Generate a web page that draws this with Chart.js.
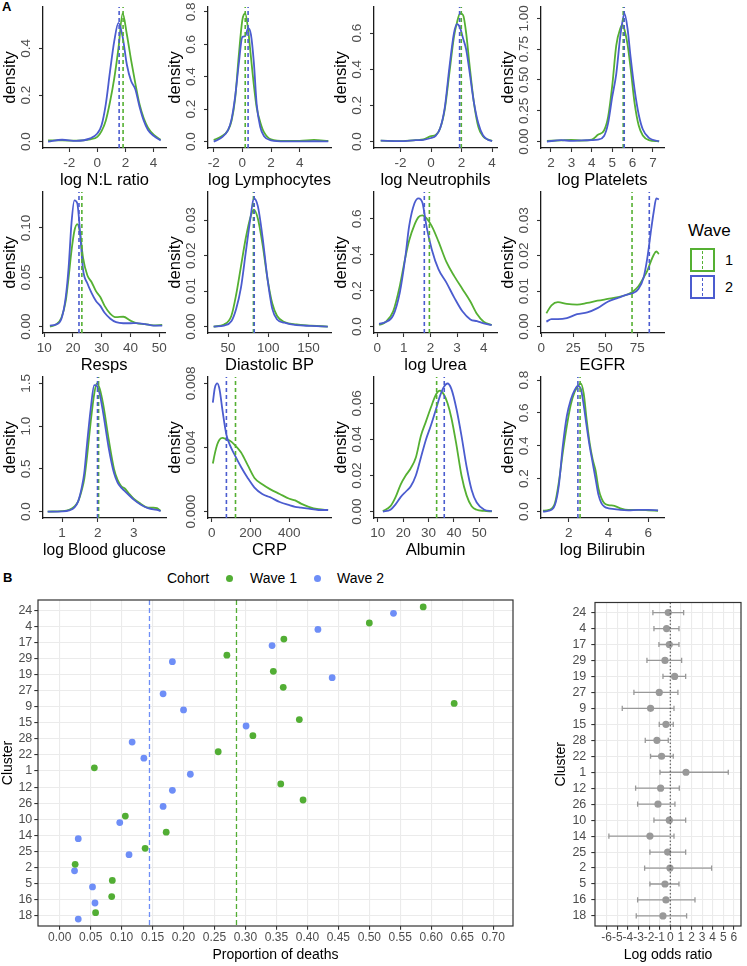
<!DOCTYPE html>
<html>
<head>
<meta charset="utf-8">
<script src="https://cdn.jsdelivr.net/npm/chart.js@4.4.1/dist/chart.umd.min.js"></script>
<style>
  html, body { margin: 0; padding: 0; background: #fff; }
  body { width: 747px; height: 966px; position: relative; overflow: hidden;
         font-family: 'Liberation Sans', Arial, Helvetica, sans-serif; }
  canvas { position: absolute; }
  .tag { position: absolute; font-weight: bold; font-size: 13px; line-height: 14px; }
  .txt { position: absolute; white-space: nowrap; color: #000; }
  .key { position: absolute; width: 25px; height: 24px; box-sizing: border-box; border: 2px solid; }
  .key div { position: absolute; left: 10px; top: 1px; bottom: 1px; border-left: 1.6px dashed; }
  .dot { position: absolute; width: 7px; height: 7px; border-radius: 50%; }
</style>
</head>
<body>
<div class="tag" style="left:2px;top:0px">A</div>
<div class="tag" style="left:3px;top:571px">B</div>

<div class="txt" style="left:688px;top:221px;font-size:17px;line-height:20px">Wave</div>
<div class="key" style="left:690px;top:248px;border-color:#55b032"><div style="border-color:#55b032"></div></div>
<div class="key" style="left:690px;top:275px;border-color:#4b5ccf"><div style="border-color:#4b5ccf"></div></div>
<div class="txt" style="left:725px;top:252px;font-size:14.5px;line-height:17px">1</div>
<div class="txt" style="left:725px;top:279px;font-size:14.5px;line-height:17px">2</div>

<div class="txt" style="left:167px;top:570px;font-size:14px;line-height:17px">Cohort</div>
<div class="dot" style="left:226px;top:575px;background:#52ae34"></div>
<div class="txt" style="left:250px;top:570px;font-size:14px;line-height:17px">Wave 1</div>
<div class="dot" style="left:314px;top:575px;background:#6e8ef7"></div>
<div class="txt" style="left:337px;top:570px;font-size:14px;line-height:17px">Wave 2</div>

<script>
// ---- panel A: density curves (x grid, wave 1, wave 2) ----
const nlX     = [-3.5, -2.5, -1.5, -0.5, 0, 0.3, 0.6, 0.9, 1.2, 1.5, 1.8, 2.1, 2.4, 2.7, 3.0, 3.3, 3.6, 4.0, 4.5];
const nlWave1 = [0.005, 0.005, 0.004, 0.01, 0.02, 0.045, 0.09, 0.17, 0.27, 0.40, 0.55, 0.46, 0.35, 0.25, 0.16, 0.10, 0.06, 0.03, 0.008];
const nlWave2 = [0.0, 0.008, 0.003, 0.014, 0.035, 0.07, 0.16, 0.30, 0.43, 0.51, 0.45, 0.33, 0.26, 0.225, 0.15, 0.09, 0.05, 0.025, 0.005];

const lymX     = [-2, -1.5, -1, -0.75, -0.5, -0.25, 0, 0.2, 0.4, 0.6, 0.8, 1.0, 1.25, 1.5, 2, 3, 4, 5, 6];
const lymWave1 = [0.01, 0.03, 0.07, 0.13, 0.27, 0.53, 0.75, 0.79, 0.69, 0.52, 0.35, 0.21, 0.12, 0.06, 0.014, 0.004, 0.004, 0.01, 0.004];
const lymWave2 = [0.0, 0.022, 0.07, 0.14, 0.28, 0.48, 0.645, 0.65, 0.70, 0.66, 0.49, 0.23, 0.09, 0.035, 0.008, 0.001, 0.001, 0.002, 0.001];

const neuX     = [-3.3, -2, -1, -0.5, 0, 0.3, 0.6, 0.9, 1.2, 1.5, 1.7, 1.9, 2.1, 2.3, 2.5, 2.8, 3.1, 3.4, 3.7, 4.0];
const neuWave1 = [0.005, 0.003, 0.008, 0.012, 0.03, 0.036, 0.075, 0.18, 0.38, 0.58, 0.66, 0.71, 0.70, 0.60, 0.44, 0.22, 0.08, 0.03, 0.012, 0.004];
const neuWave2 = [0.005, 0.003, 0.008, 0.01, 0.02, 0.032, 0.075, 0.19, 0.41, 0.60, 0.65, 0.63, 0.57, 0.51, 0.40, 0.22, 0.10, 0.035, 0.012, 0.002];

const pltX     = [1.8, 2.5, 3, 3.5, 4, 4.3, 4.6, 4.8, 5.0, 5.2, 5.4, 5.5, 5.6, 5.75, 5.9, 6.1, 6.3, 6.5, 6.8, 7.3];
const pltWave1 = [0.005, 0.01, 0.014, 0.008, 0.015, 0.055, 0.09, 0.2, 0.45, 0.78, 0.92, 0.946, 0.91, 0.79, 0.6, 0.31, 0.13, 0.05, 0.012, 0.002];
const pltWave2 = [0.0, 0.012, 0.006, 0.01, 0.012, 0.016, 0.045, 0.15, 0.36, 0.55, 0.86, 0.97, 1.04, 0.92, 0.69, 0.42, 0.22, 0.10, 0.03, 0.002];

const respX     = [12, 14, 16, 17.5, 18.5, 19.5, 20.5, 21.5, 22.5, 23.5, 25, 26.5, 28, 29.5, 31, 33, 35, 37.5, 40, 42, 45, 48, 51];
const respWave1 = [0.0, 0.002, 0.009, 0.026, 0.05, 0.077, 0.097, 0.104, 0.094, 0.07, 0.052, 0.045, 0.036, 0.03, 0.021, 0.013, 0.0095, 0.010, 0.006, 0.0035, 0.0025, 0.0012, 0.0017];
const respWave2 = [0.001, 0.002, 0.008, 0.03, 0.06, 0.105, 0.128, 0.125, 0.095, 0.058, 0.044, 0.034, 0.026, 0.021, 0.014, 0.008, 0.0045, 0.0034, 0.0034, 0.0036, 0.0026, 0.001, 0.001];

const dbpX     = [32, 45, 54, 60, 66, 72, 78, 82, 87, 93, 99, 105, 111, 120, 135, 153, 174];
const dbpWave1 = [0, 0.0006, 0.003, 0.009, 0.017, 0.025, 0.031, 0.033, 0.0305, 0.023, 0.0135, 0.0065, 0.003, 0.0013, 0.0006, 0.0003, 0];
const dbpWave2 = [0, 0.0003, 0.0015, 0.005, 0.011, 0.021, 0.031, 0.0362, 0.034, 0.025, 0.0135, 0.005, 0.002, 0.0011, 0.0004, 0.0002, 0];

const ureaX     = [0.07, 0.3, 0.6, 0.85, 1.05, 1.2, 1.4, 1.55, 1.7, 1.85, 2.05, 2.3, 2.6, 2.9, 3.2, 3.5, 3.75, 4.0, 4.3];
const ureaWave1 = [0.009, 0.024, 0.085, 0.227, 0.38, 0.48, 0.567, 0.61, 0.62, 0.604, 0.56, 0.475, 0.36, 0.28, 0.21, 0.14, 0.07, 0.027, 0.009];
const ureaWave2 = [0.015, 0.024, 0.062, 0.19, 0.38, 0.56, 0.687, 0.715, 0.69, 0.56, 0.43, 0.32, 0.245, 0.16, 0.085, 0.04, 0.03, 0.018, 0.008];

const egfrX     = [4, 8, 13, 20, 28, 36, 44, 52, 60, 67, 72, 76, 80, 83, 85.5, 88, 90, 92];
const egfrWave1 = [0.0038, 0.006, 0.0069, 0.0064, 0.0062, 0.0067, 0.0073, 0.0078, 0.0083, 0.009, 0.010, 0.0114, 0.0138, 0.0158, 0.0182, 0.0203, 0.0212, 0.0205];
const egfrWave2 = [0.0014, 0.0021, 0.0021, 0.0024, 0.0035, 0.004, 0.0052, 0.007, 0.0081, 0.009, 0.0095, 0.0106, 0.0138, 0.0195, 0.0262, 0.0325, 0.0362, 0.0359];

const gluX     = [0.6, 1.0, 1.2, 1.35, 1.45, 1.55, 1.62, 1.7, 1.8, 1.9, 1.97, 2.05, 2.15, 2.3, 2.45, 2.55, 2.65, 2.75, 2.85, 3.0, 3.2, 3.4, 3.55, 3.65, 3.75];
const gluWave1 = [0, 0.005, 0.02, 0.06, 0.12, 0.25, 0.38, 0.65, 1.05, 1.38, 1.5, 1.44, 1.25, 0.85, 0.5, 0.37, 0.3, 0.27, 0.22, 0.15, 0.09, 0.045, 0.045, 0.04, 0.008];
const gluWave2 = [0, 0.003, 0.015, 0.05, 0.12, 0.28, 0.45, 0.8, 1.2, 1.48, 1.47, 1.38, 1.15, 0.75, 0.45, 0.34, 0.28, 0.24, 0.2, 0.14, 0.08, 0.04, 0.025, 0.02, 0.005];

const crpX     = [5, 15, 28, 40, 55, 75, 95, 115, 150, 185, 220, 260, 300, 350, 400, 430, 460, 500, 550, 600];
const crpWave1 = [0.0030, 0.0036, 0.0042, 0.0045, 0.0046, 0.0045, 0.0044, 0.0042, 0.0037, 0.0029, 0.0021, 0.0017, 0.0014, 0.0011, 0.0008, 0.0007, 0.0005, 0.0003, 0.00015, 0.0001];
const crpWave2 = [0.0068, 0.0077, 0.0080, 0.0076, 0.0063, 0.0048, 0.0041, 0.0036, 0.0028, 0.0021, 0.0015, 0.0011, 0.0009, 0.0006, 0.0004, 0.0003, 0.00025, 0.00018, 0.0001, 0.0001];

const albX     = [12, 15, 17, 19, 21, 23, 25, 27, 29, 31, 33, 34.5, 36, 37.5, 39, 41, 43, 45, 47, 49, 52, 55];
const albWave1 = [0.0003, 0.003, 0.008, 0.015, 0.02, 0.024, 0.03, 0.042, 0.05, 0.058, 0.065, 0.067, 0.065, 0.06, 0.052, 0.037, 0.02, 0.009, 0.003, 0.001, 0.0004, 0.0001];
const albWave2 = [0, 0.001, 0.004, 0.008, 0.011, 0.014, 0.02, 0.03, 0.04, 0.048, 0.057, 0.064, 0.069, 0.071, 0.068, 0.057, 0.042, 0.025, 0.012, 0.005, 0.001, 0.0002];

const biliX     = [0.7, 1.0, 1.3, 1.5, 1.7, 1.9, 2.1, 2.3, 2.45, 2.6, 2.75, 2.9, 3.05, 3.2, 3.35, 3.5, 3.65, 3.8, 4.0, 4.3, 4.6, 5.0, 5.5, 6.0, 6.5];
const biliWave1 = [0.005, 0.01, 0.05, 0.18, 0.36, 0.52, 0.65, 0.73, 0.76, 0.78, 0.72, 0.56, 0.42, 0.32, 0.25, 0.14, 0.08, 0.05, 0.04, 0.035, 0.02, 0.01, 0.01, 0.008, 0.005];
const biliWave2 = [0, 0.005, 0.04, 0.16, 0.4, 0.58, 0.68, 0.74, 0.765, 0.75, 0.65, 0.52, 0.4, 0.3, 0.2, 0.1, 0.05, 0.03, 0.02, 0.015, 0.01, 0.008, 0.01, 0.01, 0.008];

const panelTitles = ['log N:L ratio', 'log Lymphocytes', 'log Neutrophils', 'log Platelets',
                     'Resps', 'Diastolic BP', 'log Urea', 'EGFR',
                     'log Blood glucose', 'CRP', 'Albumin', 'log Bilirubin'];
const meansWave1 = [1.83, 0.2, 1.98, 5.54, 23.1, 81.5, 1.96, 71, 2.02, 122, 33.2, 2.57];
const meansWave2 = [1.55, 0.4, 1.87, 5.59, 22.1, 82.5, 1.77, 84.5, 1.99, 75, 36.2, 2.46];

// ---- panel B: proportion of deaths and log odds ratio by cluster ----
const clusters    = ['24', '4', '17', '29', '19', '27', '9', '15', '28', '22', '1', '12', '26', '10', '14', '25', '2', '5', '16', '18'];
const deathsWave1 = [0.587, 0.500, 0.362, 0.270, 0.345, 0.361, 0.637, 0.387, 0.312, 0.256, 0.056, 0.357, 0.393, 0.106, 0.172, 0.138, 0.025, 0.085, 0.084, 0.058];
const deathsWave2 = [0.539, 0.417, 0.343, 0.182, 0.440, 0.167, 0.200, 0.301, 0.117, 0.136, 0.211, 0.182, 0.167, 0.097, 0.030, 0.112, 0.024, 0.053, 0.057, 0.030];
const overallWave1 = 0.2855;
const overallWave2 = 0.145;
const logOdds     = [-0.19, -0.35, -0.09, -0.5, 0.41, -1.04, -1.86, -0.41, -1.26, -0.82, 1.48, -0.91, -1.16, -0.09, -1.92, -0.25, -0.03, -0.5, -0.41, -0.69];
const logOddsLow  = [-1.64, -1.54, -1.07, -2.2, -0.69, -3.43, -4.53, -1.04, -2.36, -1.86, -0.97, -3.27, -3.08, -1.54, -5.79, -1.92, -2.42, -1.92, -3.08, -3.21];
const logOddsHigh = [1.26, 0.82, 0.82, 1.07, 1.45, 0.72, 0.35, 0.28, -0.19, 0.28, 5.47, 0.85, 0.44, 1.45, 0.35, 1.45, 3.9, 0.82, 2.33, 1.54];
const propTicks = [0, 0.05, 0.1, 0.15, 0.2, 0.25, 0.3, 0.35, 0.4, 0.45, 0.5, 0.55, 0.6, 0.65, 0.7];
const lorTicks  = [-6, -5, -4, -3, -2, -1, 0, 1, 2, 3, 4, 5, 6];

const FONT = "'Liberation Sans', Arial, Helvetica, sans-serif";
const GREEN = '#55b032', BLUE = '#4b5ccf';
const GREEN_B = '#52ae34', BLUE_B = '#6e8ef7';
Chart.defaults.font.family = FONT;
Chart.defaults.color = '#4d4d4d';

function addCanvas(left, top, w, h) {
  const cv = document.createElement('canvas');
  cv.width = w; cv.height = h;
  cv.style.left = left + 'px'; cv.style.top = top + 'px';
  document.body.appendChild(cv);
  return cv;
}

// y tick labels turned 90 degrees, as in the original
function rotatedYLabels(dec) {
  return {
    id: 'rotYLabels',
    afterDraw(chart) {
      const s = chart.scales.y, ctx = chart.ctx;
      ctx.save();
      ctx.font = '13.5px ' + FONT;
      ctx.fillStyle = '#4d4d4d';
      ctx.textAlign = 'center';
      ctx.textBaseline = 'middle';
      for (const t of s.ticks) {
        ctx.save();
        ctx.translate(s.right - 16.5, s.getPixelForValue(t.value));
        ctx.rotate(-Math.PI / 2);
        ctx.fillText(t.value.toFixed(dec), 0, 0);
        ctx.restore();
      }
      ctx.restore();
    }
  };
}

const frame = {
  id: 'frame',
  afterDraw(chart) {
    const {ctx, chartArea: a} = chart;
    ctx.save();
    ctx.strokeStyle = '#333';
    ctx.lineWidth = 1.2;
    ctx.strokeRect(a.left, a.top, a.right - a.left, a.bottom - a.top);
    ctx.restore();
  }
};

const PANEL_X = [43, 208, 374, 541];
const PANEL_Y = [7, 192, 377];
const TOP_PAD = 16;

const axisTicks = { display: true, drawOnChartArea: false, drawTicks: true, tickLength: 4, tickColor: '#333', tickWidth: 1.1 };

function densityPanel(p, m1, m2, col, row) {
  const cv = addCanvas(PANEL_X[col] - 43, PANEL_Y[row] - TOP_PAD, 170, 186 + TOP_PAD);
  const yMin = -p.yTop * 0.05 / 1.05;
  const yTicks = [];
  for (let k = 0; k * p.yStep <= p.yTop + 1e-9; k++) yTicks.push(k * p.yStep);

  const curve = (ys, color) => ({
    data: p.x.map((x, i) => ({x, y: ys[i]})),
    borderColor: color, borderWidth: 1.8, pointRadius: 0,
    cubicInterpolationMode: 'monotone', fill: false
  });
  const vline = (m, color) => ({
    data: [{x: m, y: yMin}, {x: m, y: p.yTop}],
    borderColor: color, borderWidth: 1.6, borderDash: [4, 3], pointRadius: 0, fill: false
  });

  new Chart(cv, {
    type: 'line',
    data: { datasets: [vline(m2, BLUE), vline(m1, GREEN), curve(p.w2, BLUE), curve(p.w1, GREEN)] },
    options: {
      responsive: false, animation: false, devicePixelRatio: 1,
      layout: { padding: { top: TOP_PAD, right: 4, left: 0, bottom: 0 } },
      plugins: { legend: { display: false }, tooltip: { enabled: false } },
      scales: {
        x: {
          type: 'linear', min: p.xMin, max: p.xMax,
          afterBuildTicks: s => { s.ticks = p.xTicks.map(v => ({ value: v })); },
          afterFit: s => { s.height = 45; },
          ticks: { font: { size: 13.5 }, padding: 3, autoSkip: false, maxRotation: 0, callback: v => String(v) },
          grid: axisTicks,
          border: { display: true, color: '#1a1a1a', width: 1.3 },
          title: { display: true, text: p.title, color: '#000', font: { size: 16.5 }, padding: { top: 0, bottom: 3 } }
        },
        y: {
          type: 'linear', min: yMin, max: p.yTop,
          afterBuildTicks: s => { s.ticks = yTicks.map(v => ({ value: v })); },
          afterFit: s => { s.width = 43; },
          ticks: { display: false },
          grid: axisTicks,
          border: { display: true, color: '#1a1a1a', width: 1.3 },
          title: { display: true, text: 'density', color: '#000', font: { size: 16.5 }, padding: { top: 1, bottom: 0 } }
        }
      }
    },
    plugins: [rotatedYLabels(p.yDec)]
  });
}

const panels = [
  { x: nlX,   w1: nlWave1,   w2: nlWave2,   xMin: -3.86, xMax: 4.88, xTicks: [-2, 0, 2, 4],        yTop: 0.578,  yStep: 0.2,   yDec: 1 },
  { x: lymX,  w1: lymWave1,  w2: lymWave2,  xMin: -2.4,  xMax: 6.19, xTicks: [-2, 0, 2, 4],        yTop: 0.83,   yStep: 0.2,   yDec: 1 },
  { x: neuX,  w1: neuWave1,  w2: neuWave2,  xMin: -3.74, xMax: 4.32, xTicks: [-2, 0, 2, 4],        yTop: 0.745,  yStep: 0.2,   yDec: 1 },
  { x: pltX,  w1: pltWave1,  w2: pltWave2,  xMin: 1.51,  xMax: 7.54, xTicks: [2, 3, 4, 5, 6, 7],   yTop: 1.092,  yStep: 0.25,  yDec: 2 },
  { x: respX, w1: respWave1, w2: respWave2, xMin: 9.6,   xMax: 52,   xTicks: [10, 20, 30, 40, 50], yTop: 0.1365, yStep: 0.05,  yDec: 2 },
  { x: dbpX,  w1: dbpWave1,  w2: dbpWave2,  xMin: 25,    xMax: 178,  xTicks: [50, 100, 150],       yTop: 0.038,  yStep: 0.01,  yDec: 2 },
  { x: ureaX, w1: ureaWave1, w2: ureaWave2, xMin: -0.12, xMax: 4.5,  xTicks: [0, 1, 2, 3, 4],      yTop: 0.75,   yStep: 0.2,   yDec: 1 },
  { x: egfrX, w1: egfrWave1, w2: egfrWave2, xMin: -0.2,  xMax: 96,   xTicks: [0, 25, 50, 75],      yTop: 0.038,  yStep: 0.01,  yDec: 2 },
  { x: gluX,  w1: gluWave1,  w2: gluWave2,  xMin: 0.47,  xMax: 3.9,  xTicks: [1, 2, 3],            yTop: 1.575,  yStep: 0.5,   yDec: 1 },
  { x: crpX,  w1: crpWave1,  w2: crpWave2,  xMin: -20,   xMax: 615,  xTicks: [0, 200, 400],        yTop: 0.0084, yStep: 0.004, yDec: 3 },
  { x: albX,  w1: albWave1,  w2: albWave2,  xMin: 8.5,   xMax: 57,   xTicks: [10, 20, 30, 40, 50], yTop: 0.0746, yStep: 0.02,  yDec: 2 },
  { x: biliX, w1: biliWave1, w2: biliWave2, xMin: 0.6,   xMax: 6.8,  xTicks: [2, 4, 6],            yTop: 0.819,  yStep: 0.2,   yDec: 1 }
];
panels.forEach((p, i) => {
  p.title = panelTitles[i];
  densityPanel(p, meansWave1[i], meansWave2[i], i % 4, Math.floor(i / 4));
});

// ---- panel B left: proportion of deaths ----
const Y_MIN = -0.63, Y_MAX = clusters.length - 1 + 0.63;
const catAxis = (width, pad) => ({
  type: 'linear', reverse: true, min: Y_MIN, max: Y_MAX,
  afterBuildTicks: s => { s.ticks = clusters.map((c, i) => ({ value: i })); },
  afterFit: s => { s.width = width; },
  ticks: { autoSkip: false, font: { size: 12.5 }, padding: pad, callback: v => clusters[v] },
  grid: { color: '#ebebeb', lineWidth: 1.1, tickLength: 3.7, tickColor: '#333', tickWidth: 1.1 },
  border: { display: false },
  title: { display: true, text: 'Cluster', color: '#000', font: { size: 14 }, padding: { top: 0, bottom: 0 } }
});

new Chart(addCanvas(0, 590, 520, 376), {
  type: 'scatter',
  data: {
    datasets: [
      { data: [{x: overallWave2, y: Y_MIN}, {x: overallWave2, y: Y_MAX}], showLine: true, borderColor: BLUE_B, borderWidth: 1.3, borderDash: [5, 3], pointRadius: 0 },
      { data: [{x: overallWave1, y: Y_MIN}, {x: overallWave1, y: Y_MAX}], showLine: true, borderColor: GREEN_B, borderWidth: 1.3, borderDash: [5, 3], pointRadius: 0 },
      { data: clusters.map((c, i) => ({x: deathsWave1[i], y: i - 0.2})), backgroundColor: GREEN_B, borderWidth: 0, pointRadius: 3.4 },
      { data: clusters.map((c, i) => ({x: deathsWave2[i], y: i + 0.2})), backgroundColor: BLUE_B, borderWidth: 0, pointRadius: 3.4 }
    ]
  },
  options: {
    responsive: false, animation: false, devicePixelRatio: 1,
    layout: { padding: { top: 10, right: 7, left: 0, bottom: 0 } },
    plugins: { legend: { display: false }, tooltip: { enabled: false } },
    scales: {
      x: {
        type: 'linear', min: -0.035, max: 0.732,
        afterBuildTicks: s => { s.ticks = propTicks.map(v => ({ value: v })); },
        afterFit: s => { s.height = 40; },
        ticks: { autoSkip: false, maxRotation: 0, font: { size: 12 }, padding: 1, callback: v => v.toFixed(2) },
        grid: { color: '#ebebeb', lineWidth: 1.1, tickLength: 3.7, tickColor: '#333', tickWidth: 1.1 },
        border: { display: false },
        title: { display: true, text: 'Proportion of deaths', color: '#000', font: { size: 14 }, padding: { top: 0, bottom: 2 } }
      },
      y: catAxis(38, 2)
    }
  },
  plugins: [frame]
});

// ---- panel B right: log odds ratio with intervals ----
const errorBars = [];
clusters.forEach((c, i) => {
  errorBars.push({x: logOddsLow[i], y: i}, {x: logOddsHigh[i], y: i}, {x: null, y: null});
});

new Chart(addCanvas(553, 590, 194, 376), {
  type: 'scatter',
  data: {
    datasets: [
      { data: [{x: 0, y: Y_MIN}, {x: 0, y: Y_MAX}], showLine: true, borderColor: '#555', borderWidth: 1.1, borderDash: [1.5, 2], pointRadius: 0 },
      { data: clusters.map((c, i) => ({x: logOdds[i], y: i})), backgroundColor: '#999999', borderWidth: 0, pointRadius: 3.6 },
      { data: errorBars, showLine: true, spanGaps: false, borderColor: '#999999', borderWidth: 1.3,
        pointStyle: 'line', rotation: 90, pointRadius: 2.6, pointBorderColor: '#999999', pointBorderWidth: 1.3 }
    ]
  },
  options: {
    responsive: false, animation: false, devicePixelRatio: 1,
    layout: { padding: { top: 10, right: 6, left: 0, bottom: 0 } },
    plugins: { legend: { display: false }, tooltip: { enabled: false } },
    scales: {
      x: {
        type: 'linear', min: -7.1, max: 6.67,
        afterBuildTicks: s => { s.ticks = lorTicks.map(v => ({ value: v })); },
        afterFit: s => { s.height = 40; },
        ticks: { autoSkip: false, maxRotation: 0, font: { size: 12 }, padding: 1, callback: v => String(v) },
        grid: { color: '#ebebeb', lineWidth: 1.1, tickLength: 3.7, tickColor: '#333', tickWidth: 1.1 },
        border: { display: false },
        title: { display: true, text: 'Log odds ratio', color: '#000', font: { size: 14 }, padding: { top: 0, bottom: 2 } }
      },
      y: catAxis(42, 5)
    }
  },
  plugins: [frame]
});
</script>
</body>
</html>
